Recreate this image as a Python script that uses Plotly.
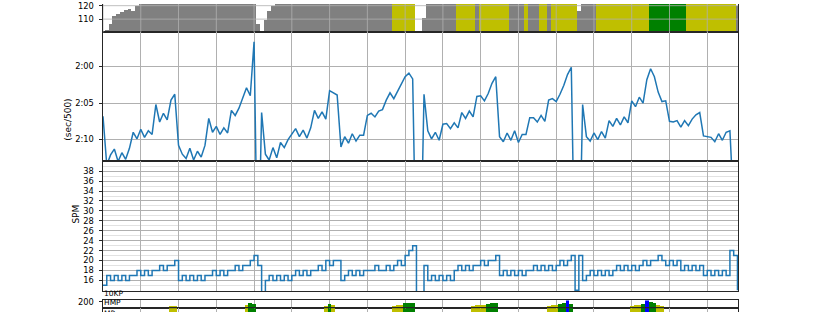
import plotly.graph_objects as go

# ---------------- data (one sample every 50 m) ----------------
STEP = 50  # metres between samples

hr = [
    100.5, 102, 106, 112, 114, 115.5, 117, 117.5, 116, 119.5,
    123, 126, 128, 130, 131, 132, 133, 134, 135, 136,
    136, 134, 133, 133, 134, 135, 136, 137, 138, 138,
    139, 139, 140, 141, 141, 142, 143, 144, 145, 146,
    146, 106, 101, 109, 116, 119.5, 123, 127, 130, 132,
    133, 134, 135, 136, 137, 137, 138, 139, 140, 140,
    141, 142, 142, 141, 140, 141, 142, 143, 143, 144,
    144, 145, 145, 146, 146, 147, 147, 149, 151, 153,
    155, 156, 156, 96, 101, 111, 122, 128, 132, 135,
    137, 139, 140, 141, 149, 150, 151, 152, 151, 146,
    150, 152, 153, 154, 155, 154, 152, 150, 147, 146,
    145, 146, 149, 147, 146, 147, 149, 150, 147, 150,
    151, 153, 154, 155, 156, 152, 116, 135, 140, 143,
    146, 148, 150, 152, 153, 155, 156, 157, 158, 159,
    160, 161, 162, 163, 164, 166, 168, 170, 171, 171,
    170, 169, 168, 167, 166, 164, 162, 160, 159, 157,
    156, 155, 154, 153, 152, 151, 150, 149, 119.5,
]

pace = [  # seconds per 500 m
    126.8, 133.5, 132.1, 131.3, 133.0, 131.8, 132.7, 131.2, 129.0, 129.9,
    128.6, 129.7, 128.8, 129.3, 125.2, 127.6, 126.4, 127.3, 124.6, 123.8,
    130.8, 132.0, 132.6, 131.2, 132.8, 131.6, 132.4, 130.8, 127.1, 129.0,
    128.2, 129.3, 128.4, 129.1, 126.0, 126.7, 125.7, 124.3, 122.9, 124.0,
    116.6, 150.0, 126.3, 132.0, 132.8, 131.1, 132.5, 130.4, 131.1, 130.0,
    129.3, 128.5, 129.6, 128.7, 129.8, 128.4, 126.0, 127.1, 126.2, 127.2,
    123.3, 123.6, 123.9, 131.0, 129.6, 130.5, 129.2, 130.2, 129.4, 129.4,
    126.7, 126.4, 126.9, 126.1, 125.9, 124.6, 123.6, 124.4, 123.4, 122.5,
    121.4, 120.9, 121.7, 150.0, 150.0, 123.8, 128.8, 129.9, 129.0, 130.1,
    127.9, 127.8, 128.5, 127.7, 128.4, 126.3, 127.1, 126.1, 126.9, 124.1,
    124.0, 124.7, 123.7, 122.3, 121.4, 129.6, 130.3, 129.1, 130.1, 128.8,
    130.4, 129.3, 129.3, 127.0, 127.0, 127.6, 126.7, 127.5, 124.6, 124.4,
    124.8, 123.8, 122.6, 121.1, 120.1, 150.0, 150.0, 125.2, 129.6, 130.2,
    129.1, 130.0, 128.9, 129.8, 127.4, 128.2, 127.1, 128.0, 126.9, 127.7,
    124.7, 125.5, 124.2, 125.0, 121.8, 120.3, 121.4, 123.5, 124.8, 124.7,
    127.5, 127.6, 127.4, 128.3, 127.4, 128.1, 127.2, 126.6, 126.3, 129.5,
    129.6, 129.7, 130.3, 129.2, 130.1, 129.0, 128.8, 150.0, 150.0,
]

spm = [
    15, 17, 16, 17, 16, 17, 16, 17, 17, 18,
    17, 18, 17, 18, 18, 19, 18, 19, 19, 20,
    16, 17, 16, 17, 16, 17, 16, 17, 17, 18,
    17, 18, 17, 18, 18, 19, 18, 19, 19, 20,
    21, 19, 13, 16, 17, 16, 17, 16, 17, 16,
    17, 18, 17, 18, 17, 18, 18, 19, 18, 20,
    19, 20, 20, 16, 17, 18, 17, 18, 17, 18,
    18, 18, 19, 18, 18, 19, 18, 19, 20, 19,
    21, 22, 23, 13, 13, 19, 16, 17, 16, 17,
    16, 17, 16, 18, 19, 18, 19, 18, 19, 19,
    20, 19, 20, 20, 21, 17, 18, 17, 18, 17,
    18, 17, 18, 18, 19, 18, 19, 18, 19, 18,
    19, 20, 19, 20, 21, 14, 21, 16, 17, 18,
    17, 18, 17, 18, 17, 18, 19, 18, 19, 18,
    19, 18, 19, 20, 19, 20, 20, 21, 20, 19,
    20, 19, 20, 18, 19, 18, 19, 18, 19, 17,
    18, 17, 18, 17, 18, 17, 22, 21, 14,
]

power = [
    100, 102, 98, 101, 99, 103, 100, 98, 104, 101,
    102, 99, 103, 100, 105, 104, 106, 103, 142, 146,
    98, 100, 97, 101, 99, 100, 102, 98, 103, 101,
    104, 100, 102, 105, 106, 104, 108, 110, 150, 176,
    168, 60, 70, 99, 100, 98, 101, 100, 99, 103,
    102, 104, 101, 103, 100, 104, 106, 108, 107, 148,
    162, 152, 110, 100, 102, 101, 103, 100, 104, 102,
    106, 105, 107, 106, 108, 110, 112, 145, 150, 155,
    175, 185, 178, 60, 60, 100, 101, 100, 102, 101,
    103, 102, 104, 103, 106, 107, 105, 108, 145, 150,
    152, 156, 172, 182, 176, 100, 101, 103, 102, 104,
    103, 102, 101, 105, 104, 106, 105, 107, 146, 150,
    155, 172, 180, 235, 165, 60, 60, 100, 101, 102,
    100, 103, 102, 101, 104, 103, 105, 104, 106, 105,
    146, 150, 156, 170, 235, 192, 185, 152, 145, 108,
    106, 107, 105, 106, 108, 104, 106, 105, 107, 100,
    102, 101, 103, 100, 102, 101, 104, 103, 100,
]

PACE_TICKS = [120, 125, 130]
PACE_LABELS = ["2:00", "2:05", "2:10"]
SPM_TICKS = list(range(16, 40, 2))
HR_TICKS = [110, 120]
HR_ZONES = [(165, "#008000"), (148, "#bfbf00")]          # lower bounds
POWER_ZONES = [(215, "#0000ff"), (160, "#008000"), (135, "#bfbf00")]
PANEL_LABELS = ["10KP", "HMP", "MP"]

dist = [i * STEP for i in range(len(pace))]


def zone_color(v, zones, base="#808080"):
    for lo, c in zones:
        if v >= lo:
            return c
    return base


hr_colors = [zone_color(v, HR_ZONES) for v in hr]
pw_colors = [zone_color(v, POWER_ZONES) for v in power]

# ---------------- layout geometry ----------------
H = 312.0


def dom(top_px, bot_px):
    return [max(0.0, 1 - bot_px / H), min(1.0, 1 - top_px / H)]


XMAX = 8407
FONT = dict(family="DejaVu Sans", size=8.3, color="#000000")
LINE = "#262626"
GRID = "#b0b0b0"

fig = go.Figure()

fig.add_trace(go.Bar(x=dist, y=hr, width=STEP, marker=dict(color=hr_colors, line=dict(width=0)),
                     xaxis="x", yaxis="y", hoverinfo="skip"))
fig.add_trace(go.Scatter(x=dist, y=pace, mode="lines", line=dict(color="#1f77b4", width=1.5),
                         xaxis="x2", yaxis="y2"))
fig.add_trace(go.Scatter(x=dist, y=spm, mode="lines", line=dict(color="#1f77b4", width=1.5, shape="hv"),
                         xaxis="x3", yaxis="y3"))
fig.add_trace(go.Bar(x=dist, y=power, width=STEP, marker=dict(color=pw_colors, line=dict(width=0)),
                     xaxis="x5", yaxis="y5", hoverinfo="skip"))
fig.add_trace(go.Bar(x=dist, y=power, width=STEP, marker=dict(color=pw_colors, line=dict(width=0)),
                     xaxis="x6", yaxis="y6", hoverinfo="skip"))

domains = [dom(0, 28.7), dom(28.7, 159.3), dom(159.3, 291), dom(291, 299.3),
           dom(300.3, 307.5), dom(308.3, 312)]

layout = dict(
    width=820, height=312,
    margin=dict(l=103, r=82, t=0, b=0),
    paper_bgcolor="white", plot_bgcolor="white",
    showlegend=False, bargap=0, barmode="overlay",
    font=FONT,
)

for k in range(6):
    sx = "" if k == 0 else str(k + 1)
    xa = dict(domain=[0, 1], range=[0, XMAX], anchor="y" + sx,
              showticklabels=False, ticks="", showgrid=True, gridcolor=GRID,
              gridwidth=0.8, tick0=0, dtick=500, zeroline=False,
              showline=True, linecolor=LINE, linewidth=1, mirror=True)
    if k > 0:
        xa["matches"] = "x"
    ya = dict(domain=domains[k], anchor="x" + sx, zeroline=False,
              showline=True, linecolor=LINE, linewidth=1, mirror=True,
              showgrid=False, ticks="", showticklabels=False)
    if k == 0:
        xa["mirror"] = False
        ya.update(range=[100.15, 121.25], tickmode="array", tickvals=HR_TICKS,
                  ticks="outside", ticklen=3.5, tickcolor=LINE, showticklabels=True,
                  ticklabelstandoff=3)
    elif k == 1:
        ya.update(range=[132.97, 115.32], tickmode="array", tickvals=PACE_TICKS,
                  ticktext=PACE_LABELS, ticks="outside", ticklen=3.5, tickcolor=LINE,
                  showticklabels=True, showgrid=True, gridcolor=GRID, gridwidth=0.8,
                  ticklabelstandoff=3)
    elif k == 2:
        ya.update(range=[13.81, 40.0], tickmode="array", tickvals=SPM_TICKS,
                  ticks="outside", ticklen=3.5, tickcolor=LINE, showticklabels=True,
                  showgrid=True, gridcolor=GRID, gridwidth=0.8, ticklabelstandoff=3,
                  minor=dict(tickmode="linear", tick0=0, dtick=1, showgrid=True,
                             gridcolor="#e2e2e2", gridwidth=0.8, ticks=""))
    elif k == 3:
        ya.update(range=[0, 1])
    elif k == 4:
        ya.update(range=[130, 215], tickmode="array", tickvals=[200],
                  ticks="outside", ticklen=3.5, tickcolor=LINE, showticklabels=True,
                  ticklabelstandoff=3)
    elif k == 5:
        ya.update(range=[118, 140])
        xa.update(side="top", mirror=False)
    layout["xaxis" + sx] = xa
    layout["yaxis" + sx] = ya

fig.update_layout(**layout)

# grid drawn above the heart-rate fill (as matplotlib does for patches)
shapes = []
for xv in range(0, XMAX, 500):
    shapes.append(dict(type="line", xref="x", yref="y domain", x0=xv, x1=xv, y0=0, y1=1,
                       line=dict(color=GRID, width=0.8), layer="above"))
for yv in HR_TICKS:
    shapes.append(dict(type="line", xref="x domain", yref="y", x0=0, x1=1, y0=yv, y1=yv,
                       line=dict(color=GRID, width=0.8), layer="above"))
fig.update_layout(shapes=shapes)

W = 635.0
ann = [
    dict(text="(sec/500)", x=(61 - 103) / W, y=1 - 94 / H, xref="paper", yref="paper",
         textangle=-90, showarrow=False, font=dict(family="DejaVu Sans", size=9, color="#000")),
    dict(text="SPM", x=(69 - 103) / W, y=1 - 225 / H, xref="paper", yref="paper",
         textangle=-90, showarrow=False, font=dict(family="DejaVu Sans", size=9, color="#000")),
]
for lab, d in zip(PANEL_LABELS, domains[3:]):
    ann.append(dict(text=lab, x=0.0, y=d[0] if d[0] > 0 else d[1], xref="paper", yref="paper",
                    xanchor="left", yanchor="bottom" if d[0] > 0 else "top", showarrow=False,
                    borderpad=0, font=dict(family="DejaVu Sans", size=7.5, color="#000")))
fig.update_layout(annotations=ann)

fig.write_html("out.html")
